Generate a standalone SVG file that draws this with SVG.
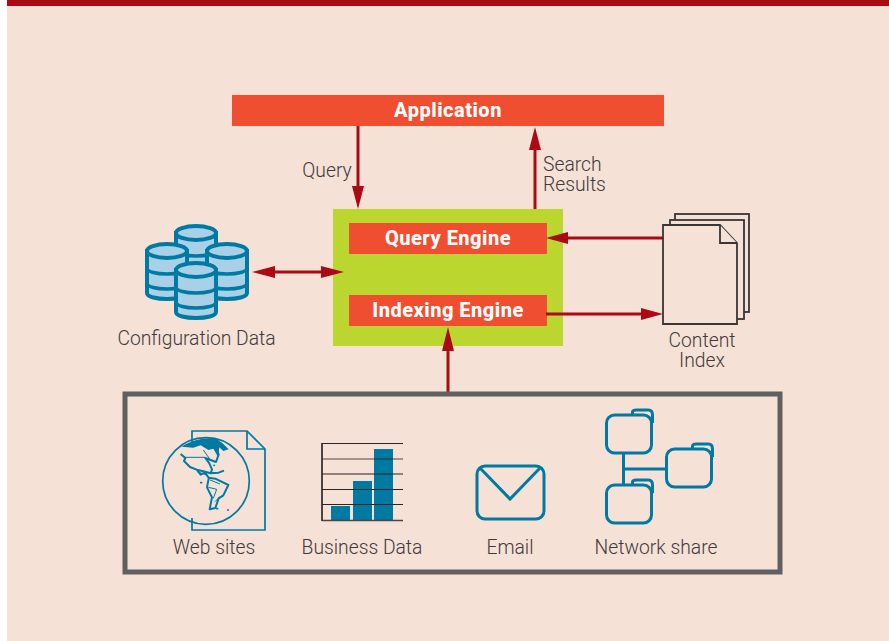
<svg xmlns="http://www.w3.org/2000/svg" width="889" height="641" viewBox="0 0 889 641">
<style>
.lbl{font-family:"Roboto","Liberation Sans",sans-serif;font-weight:300;font-size:19.3px;fill:#3f3a3c;text-anchor:middle}
.lbs{text-anchor:start}
.eng{font-family:"Roboto","Liberation Sans",sans-serif;font-weight:800;font-size:20px;letter-spacing:.5px;fill:#fff;text-anchor:middle}
.red{fill:#f04e30}
.ln{stroke:#ab0a14;stroke-width:3;fill:none}
.hd{fill:#ab0a14}
.cyl{fill:#a8d0e6;stroke:#0079a3;stroke-width:4}
.band{fill:none;stroke:#0079a3;stroke-width:3.4}
.doc{fill:#f5e1d6;stroke:#3a3536;stroke-width:1.8}
.blue{fill:none;stroke:#0079a3;stroke-width:3}
.thin{fill:none;stroke:#0079a3;stroke-width:1.7}
.grid{stroke:#2b2526;stroke-width:1.2}
.bar{fill:#0079a3}
</style>
<defs>
<g id="cyl3">
<path class="cyl" d="M-20,0V42C-20,50 20,50 20,42V0Z"/>
<ellipse class="cyl" cx="0" cy="0" rx="20" ry="7"/>
<path class="band" d="M-20,17C-20,25 20,25 20,17M-20,32C-20,40 20,40 20,32"/>
</g>
<g id="folder">
<path class="blue" d="M26,-1V-3C26,-5 28,-5 30,-5H42C45,-5 46,-3 46,0V8"/>
<rect class="blue" x="0" y="0" width="45" height="38" rx="8"/>
</g>
</defs>
<rect width="889" height="641" fill="#ffffff"/>
<rect x="7" y="0" width="882" height="641" fill="#f5e1d6"/>
<rect x="7" y="0" width="882" height="6" fill="#ab0a14"/>

<g id="engines-panel"><rect x="333" y="209" width="230" height="137" fill="#bcd630"/></g>
<g id="application"><rect class="red" x="232" y="95" width="432" height="31"/><text class="eng" x="448" y="117">Application</text></g>
<g id="query-engine"><rect class="red" x="349" y="223" width="198" height="31"/><text class="eng" x="448" y="245">Query Engine</text></g>
<g id="indexing-engine"><rect class="red" x="349" y="295" width="198" height="31"/><text class="eng" x="448" y="317">Indexing Engine</text></g>

<g id="connectors">
<path class="ln" d="M358,126V188"/><path class="hd" d="M358,209L352,186H364Z"/>
<path class="ln" d="M535,209V148"/><path class="hd" d="M535,127L529,150H541Z"/>
<path class="ln" d="M663,238H566"/><path class="hd" d="M546,238L568,232V244Z"/>
<path class="ln" d="M546,314H643"/><path class="hd" d="M663,314L641,308V320Z"/>
<path class="ln" d="M273,272H323"/><path class="hd" d="M252,272L275,266V278Z"/><path class="hd" d="M344,272L321,266V278Z"/>
<path class="ln" d="M448,392V350"/><path class="hd" d="M448,327L442,351H454Z"/>
</g>

<g id="query-label"><text class="lbl" x="327" y="177">Query</text></g>
<g id="search-results-label"><text class="lbl lbs" y="171"><tspan x="543">Search</tspan><tspan x="543" dy="20">Results</tspan></text></g>

<g id="configuration-data">
<use href="#cyl3" x="196" y="233"/>
<use href="#cyl3" x="167" y="251"/>
<use href="#cyl3" x="227" y="251"/>
<use href="#cyl3" x="196" y="270"/>
<text class="lbl" x="196.500" y="345">Configuration Data</text>
</g>

<g id="content-index">
<rect class="doc" x="675" y="214" width="74" height="98"/>
<rect class="doc" x="670" y="220" width="74" height="99"/>
<path class="doc" d="M663,225H720L737,243V324H663Z"/>
<path class="doc" d="M720,225V243H737"/>
<text class="lbl" y="347"><tspan x="702">Content</tspan><tspan x="702" dy="20">Index</tspan></text>
</g>

<g id="sources"><rect x="125" y="394" width="655" height="178" fill="none" stroke="#5f6062" stroke-width="5"/></g>

<g id="web-sites">
<path class="thin" d="M192,444V431H247L265,449V530H192V518"/>
<path class="thin" d="M247,431V449H265"/>
<circle class="thin" cx="206" cy="481" r="43.300"/>
<g transform="translate(160 430) scale(.3333)">
<path fill="#0079a3" d="M65,50C90,32 130,22 165,25L188,40L206,58L190,63L178,52L174,80L160,56L145,60L122,46L100,53Z"/>
<path fill="none" stroke="#0079a3" stroke-width="6" stroke-linejoin="round" d="M62,72L76,84L72,93L90,111L110,119L122,134L135,128L146,143L166,146L205,165L190,196L176,205L166,234L149,238L156,202L141,172L146,146M150,130L176,128L192,122M110,119L130,124L152,130L156,118L148,100L136,84L168,96L176,74L172,60"/>
<path fill="none" stroke="#0079a3" stroke-width="3" d="M72,82L135,82M130,60L150,88M150,150L180,162M145,172L170,178L160,205M112,125L140,135M165,215L180,200"/>
<path fill="none" stroke="#0079a3" stroke-width="5" stroke-linecap="round" d="M162,106h1M122,158h3M170,236h3M203,240h2M184,50h8"/>
</g>
<text class="lbl" x="214" y="554">Web sites</text>
</g>

<g id="business-data">
<path stroke="#4a4446" stroke-width="2" d="M322,443V521" fill="none"/>
<rect class="bar" x="331" y="506" width="19" height="14"/>
<rect class="bar" x="353" y="481" width="19" height="39"/>
<rect class="bar" x="374" y="449" width="19" height="71"/>
<path class="grid" d="M322,443.500H403M322,474H403M322,489.500H403M322,504.500H403"/>
<path stroke="#2b2526" stroke-opacity=".55" stroke-width="1.500" d="M322,459H403"/>
<path stroke="#4a4446" stroke-width="1.600" d="M322,520.500H403"/>
<text class="lbl" x="362" y="554">Business Data</text>
</g>

<g id="email">
<rect class="blue" x="477" y="466" width="67" height="53" rx="8"/>
<path class="blue" d="M480,468L510,499L540,468"/>
<text class="lbl" x="510" y="554">Email</text>
</g>

<g id="network-share">
<path class="blue" d="M623.500,453V485M623.500,469H666"/>
<use href="#folder" x="606.500" y="415"/>
<use href="#folder" x="666.500" y="449"/>
<use href="#folder" x="606.500" y="485"/>
<text class="lbl" x="656" y="554">Network share</text>
</g>
</svg>
